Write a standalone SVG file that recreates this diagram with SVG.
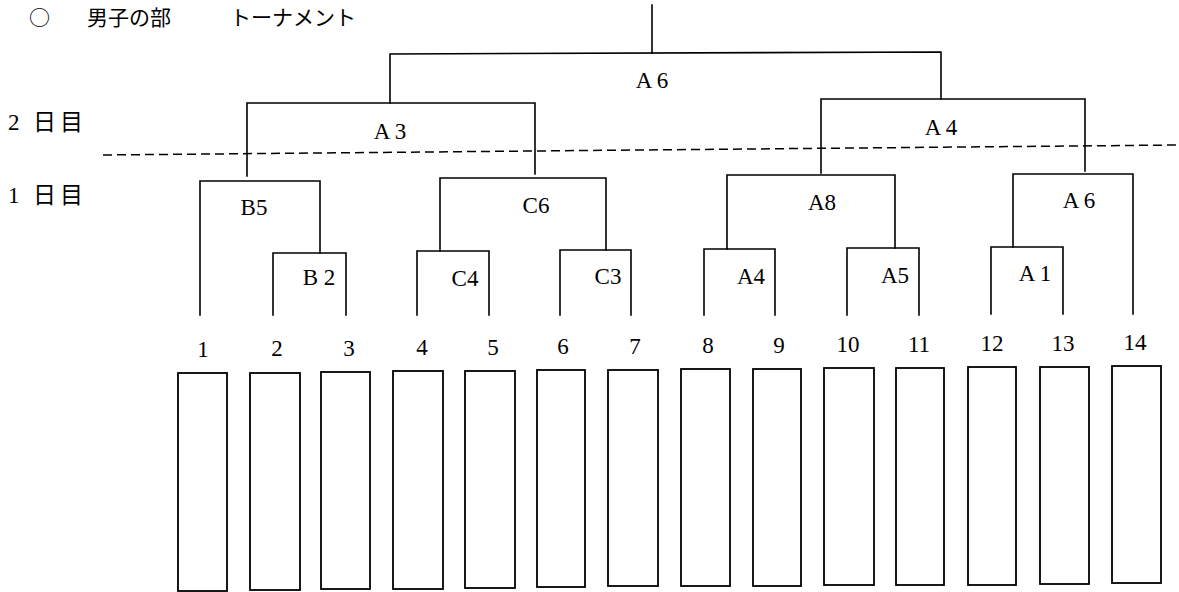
<svg xmlns="http://www.w3.org/2000/svg" width="1179" height="592" viewBox="0 0 1179 592">
<style>
.ln{stroke:#000;stroke-width:1.6;fill:none;stroke-linecap:square}
.dash{stroke:#000;stroke-width:1.5;fill:none;stroke-dasharray:9 5}
.box{stroke:#000;stroke-width:1.8;fill:#fff}
.lbl{font-family:"Liberation Serif","Noto Sans CJK JP",serif;font-size:23px;fill:#000;text-anchor:middle}
.num{font-family:"Liberation Serif",serif;font-size:23px;fill:#000;text-anchor:middle}
.jp{font-family:"Liberation Serif","Noto Sans CJK JP",sans-serif;font-size:23px;fill:#000}
.ttl{font-family:"Noto Sans CJK JP",sans-serif;font-size:21px;fill:#000}
</style>
<rect width="1179" height="592" fill="#fff"/>
<g id="title">
<text class="ttl" x="29" y="25">○</text>
<text class="ttl" x="87" y="25">男子の部</text>
<text class="ttl" x="230" y="25">トーナメント</text>
</g>
<g id="days">
<text class="jp" x="8 33 60" y="130">2日目</text>
<text class="jp" x="8 33 60" y="203">1日目</text>
<line class="dash" x1="103" y1="155" x2="1179" y2="145"/>
</g>
<g id="connectors">
<path class="ln" d="M652 5 V53"/>
<path class="ln" d="M390 103 V54 L941 52 V99"/>
<path class="ln" d="M247 176 V103 H535 V174"/>
<path class="ln" d="M821 173 V99 H1085 V171"/>
<path class="ln" d="M200 315 V181 H320 V253"/>
<path class="ln" d="M273 315 V253 H346 V315"/>
<path class="ln" d="M440 251 V178 H606 V250"/>
<path class="ln" d="M417 315 V251 H489 V315"/>
<path class="ln" d="M560 315 V250 H631 V315"/>
<path class="ln" d="M727 249 V175 H895 V248"/>
<path class="ln" d="M704 315 V249 H775 V315"/>
<path class="ln" d="M847 315 V248 H919 V315"/>
<path class="ln" d="M1013 247 V174 H1133 V314"/>
<path class="ln" d="M991 314 V247 H1063 V314"/>
</g>
<g id="labels">
<text class="lbl" x="652" y="88">A 6</text>
<text class="lbl" x="390" y="139">A 3</text>
<text class="lbl" x="941" y="135">A 4</text>
<text class="lbl" x="254" y="215">B5</text>
<text class="lbl" x="319" y="285">B 2</text>
<text class="lbl" x="536" y="213">C6</text>
<text class="lbl" x="465" y="286">C4</text>
<text class="lbl" x="608" y="284">C3</text>
<text class="lbl" x="822" y="210">A8</text>
<text class="lbl" x="751" y="284">A4</text>
<text class="lbl" x="895" y="283">A5</text>
<text class="lbl" x="1079" y="208">A 6</text>
<text class="lbl" x="1035" y="281">A 1</text>
</g>
<g id="players">
<g id="p1"><text class="num" x="203" y="357">1</text><rect class="box" x="178" y="373" width="49" height="218"/></g>
<g id="p2"><text class="num" x="277" y="356">2</text><rect class="box" x="250" y="373" width="50" height="217"/></g>
<g id="p3"><text class="num" x="349" y="356">3</text><rect class="box" x="321" y="372" width="49" height="217"/></g>
<g id="p4"><text class="num" x="422" y="355">4</text><rect class="box" x="393" y="371" width="50" height="218"/></g>
<g id="p5"><text class="num" x="493" y="355">5</text><rect class="box" x="465" y="371" width="50" height="217"/></g>
<g id="p6"><text class="num" x="563" y="354">6</text><rect class="box" x="537" y="370" width="48" height="217"/></g>
<g id="p7"><text class="num" x="635" y="354">7</text><rect class="box" x="608" y="370" width="50" height="216"/></g>
<g id="p8"><text class="num" x="708" y="353">8</text><rect class="box" x="681" y="369" width="49" height="217"/></g>
<g id="p9"><text class="num" x="779" y="353">9</text><rect class="box" x="753" y="369" width="48" height="217"/></g>
<g id="p10"><text class="num" x="848" y="352">10</text><rect class="box" x="824" y="368" width="50" height="217"/></g>
<g id="p11"><text class="num" x="919" y="352">11</text><rect class="box" x="896" y="368" width="48" height="217"/></g>
<g id="p12"><text class="num" x="992" y="351">12</text><rect class="box" x="968" y="367" width="48" height="218"/></g>
<g id="p13"><text class="num" x="1063" y="351">13</text><rect class="box" x="1040" y="367" width="49" height="217"/></g>
<g id="p14"><text class="num" x="1135" y="350">14</text><rect class="box" x="1112" y="366" width="49" height="217"/></g>
</g>
</svg>
